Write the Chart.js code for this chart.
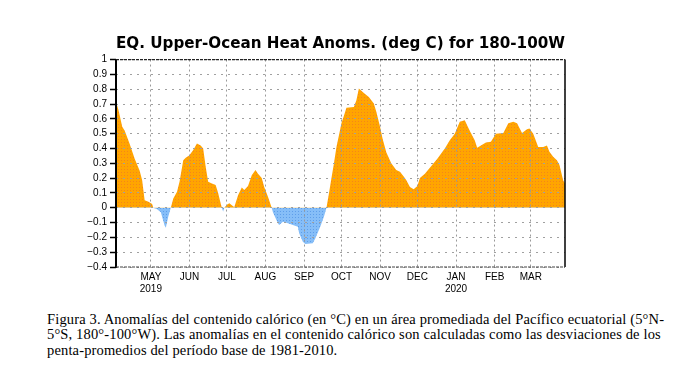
<!DOCTYPE html>
<html><head><meta charset="utf-8">
<script src="https://cdn.jsdelivr.net/npm/chart.js@4"></script>
<style>
html,body{margin:0;padding:0;background:#fff;width:673px;height:373px;overflow:hidden}
#wrap{position:absolute;left:0;top:0;width:673px;height:300px}
#cap{position:absolute;left:47px;top:311.5px;font-family:"Liberation Serif","Times New Roman",serif;font-size:14.5px;letter-spacing:0.15px;line-height:15.8px;color:#000;white-space:nowrap}
</style></head><body>
<div id="wrap"><canvas id="c"></canvas></div>
<div id="cap">Figura 3. Anomalías del contenido calórico (en °C) en un área promediada del Pacífico ecuatorial (5°N-<br>5°S, 180°-100°W). Las anomalías en el contenido calórico son calculadas como las desviaciones de los<br>penta-promedios del período base de 1981-2010.</div>
<script>
// Days since 2019-04-01 (pentad-ish sampling)
const days = [2,4,7,9,13,17,21,23,25,28,31,32,35,38,41,42,44,46,48,51,53,56,58,61,64,67,70,72,74,76,79,82,84,86,87,88,89,91,93,96,97,100,103,105,108,111,114,116,119,121,124,127,128,132,133,136,140,144,148,149,152,154,160,162,166,169,171,173,175,177,179,181,183,185,187,193,195,197,201,205,209,211,214,216,219,223,227,230,233,235,238,241,244,246,250,255,260,266,270,274,278,282,286,290,292,295,299,303,307,313,317,321,324,328,332,334,337,341,345,348,350,353,356,358,361,362.5];
const anomalies = [0.715,0.66,0.546,0.52,0.43,0.33,0.25,0.186,0.05,0.04,0.025,0.0,-0.01,-0.03,-0.12,-0.135,-0.06,0.0,0.063,0.108,0.175,0.32,0.337,0.355,0.39,0.434,0.42,0.40,0.276,0.175,0.164,0.153,0.10,0.03,0.0,-0.025,0.0,0.02,0.03,0.01,0.005,0.085,0.137,0.12,0.146,0.22,0.254,0.23,0.2,0.14,0.074,0.0,-0.03,-0.105,-0.117,-0.094,-0.105,-0.117,-0.128,-0.17,-0.23,-0.245,-0.24,-0.207,-0.128,-0.06,0.0,0.097,0.2,0.3,0.41,0.49,0.57,0.62,0.674,0.68,0.726,0.805,0.775,0.748,0.703,0.647,0.546,0.467,0.375,0.30,0.254,0.243,0.21,0.187,0.14,0.124,0.146,0.2,0.23,0.28,0.33,0.40,0.456,0.50,0.58,0.59,0.52,0.456,0.405,0.42,0.44,0.445,0.50,0.505,0.57,0.58,0.57,0.505,0.53,0.535,0.50,0.41,0.41,0.42,0.377,0.344,0.32,0.29,0.186,0.164];
const monthTickDays = [30,61,91,122,153,183,214,244,275,306,335];
const monthLabels = ['MAY','JUN','JUL','AUG','SEP','OCT','NOV','DEC','JAN','FEB','MAR'];
const yearLabels = ['2019','','','','','','','','2020','',''];
const yTickValues = [-0.4,-0.3,-0.2,-0.1,0,0.1,0.2,0.3,0.4,0.5,0.6,0.7,0.8,0.9,1];
const yTickLabels = ['\u22120.4','\u22120.3','\u22120.2','\u22120.1','0','0.1','0.2','0.3','0.4','0.5','0.6','0.7','0.8','0.9','1'];
const titleText = 'EQ. Upper-Ocean Heat Anoms. (deg C) for 180-100W';

function dotPattern(base, dot){
  const c = document.createElement('canvas'); c.width = 3; c.height = 3;
  const g = c.getContext('2d');
  g.fillStyle = base; g.fillRect(0,0,3,3);
  g.fillStyle = dot; g.fillRect(1,1,1,1);
  return g.createPattern(c,'repeat');
}
const orangeFill = dotPattern('#FFA500','#F5851A');
const blueFill = dotPattern('#86BEF8','#5E9EEA');

const frame = {
  id:'frame',
  afterDraw(chart){
    const {ctx, chartArea:a} = chart;
    ctx.save();
    ctx.strokeStyle = '#000';
    ctx.lineWidth = 2;
    ctx.beginPath(); ctx.moveTo(a.left, a.top); ctx.lineTo(a.left, a.bottom + 1); ctx.stroke();
    ctx.lineWidth = 1.5;
    ctx.beginPath(); ctx.moveTo(a.right, a.top); ctx.lineTo(a.right, a.bottom); ctx.stroke();
    ctx.setLineDash([3,1]);
    ctx.strokeStyle = '#222';
    ctx.lineWidth = 1.2;
    ctx.beginPath(); ctx.moveTo(a.left, a.top); ctx.lineTo(a.right, a.top); ctx.stroke();
    ctx.strokeStyle = '#444';
    ctx.beginPath(); ctx.moveTo(a.left, a.bottom); ctx.lineTo(a.right, a.bottom); ctx.stroke();
    ctx.restore();
  }
};

new Chart(document.getElementById('c'), {
  type: 'line',
  data: {
    datasets: [{
      data: days.map((d,i) => ({x: d, y: anomalies[i]})),
      borderWidth: 0,
      borderColor: 'rgba(0,0,0,0)',
      pointRadius: 0,
      tension: 0,
      fill: {target: 'origin', above: orangeFill, below: blueFill}
    }]
  },
  options: {
    responsive: true,
    maintainAspectRatio: false,
    animation: false,
    layout: {padding: {left: 0, right: 108, top: 0, bottom: 0}},
    plugins: {
      legend: {display: false},
      tooltip: {enabled: false},
      title: {
        display: true, text: titleText, fullSize: false,
        color: '#000',
        font: {family: 'DejaVu Sans', size: 16.3, weight: 'bold'},
        padding: {top: 34, bottom: 6}
      }
    },
    scales: {
      x: {
        type: 'linear', min: 2, max: 362.5,
        afterBuildTicks: s => { s.ticks = monthTickDays.map(v => ({value: v})); },
        afterFit: s => { s.height = 33; },
        border: {display: false, dash: [2,3]},
        grid: {color: '#9a9a9a', lineWidth: 1, drawTicks: false, z: 1},
        ticks: {
          autoSkip: false, maxRotation: 0, padding: 4, color: '#000',
          font: {family: 'Liberation Sans', size: 10},
          callback: (v, i) => [monthLabels[i], yearLabels[i]]
        }
      },
      y: {
        min: -0.4, max: 1,
        afterBuildTicks: s => { s.ticks = yTickValues.map(v => ({value: v})); },
        afterFit: s => { s.width = 116; },
        border: {display: false, dash: [2,5]},
        grid: {color: '#a0a0a0', lineWidth: 1, drawTicks: true, tickLength: 6, tickColor: '#000', tickBorderDash: [], tickWidth: 1.5, z: 1},
        ticks: {
          autoSkip: false, padding: 3, color: '#000',
          font: {family: 'Liberation Sans', size: 10},
          callback: (v, i) => yTickLabels[i]
        }
      }
    }
  },
  plugins: [frame]
});
</script>
</body></html>
